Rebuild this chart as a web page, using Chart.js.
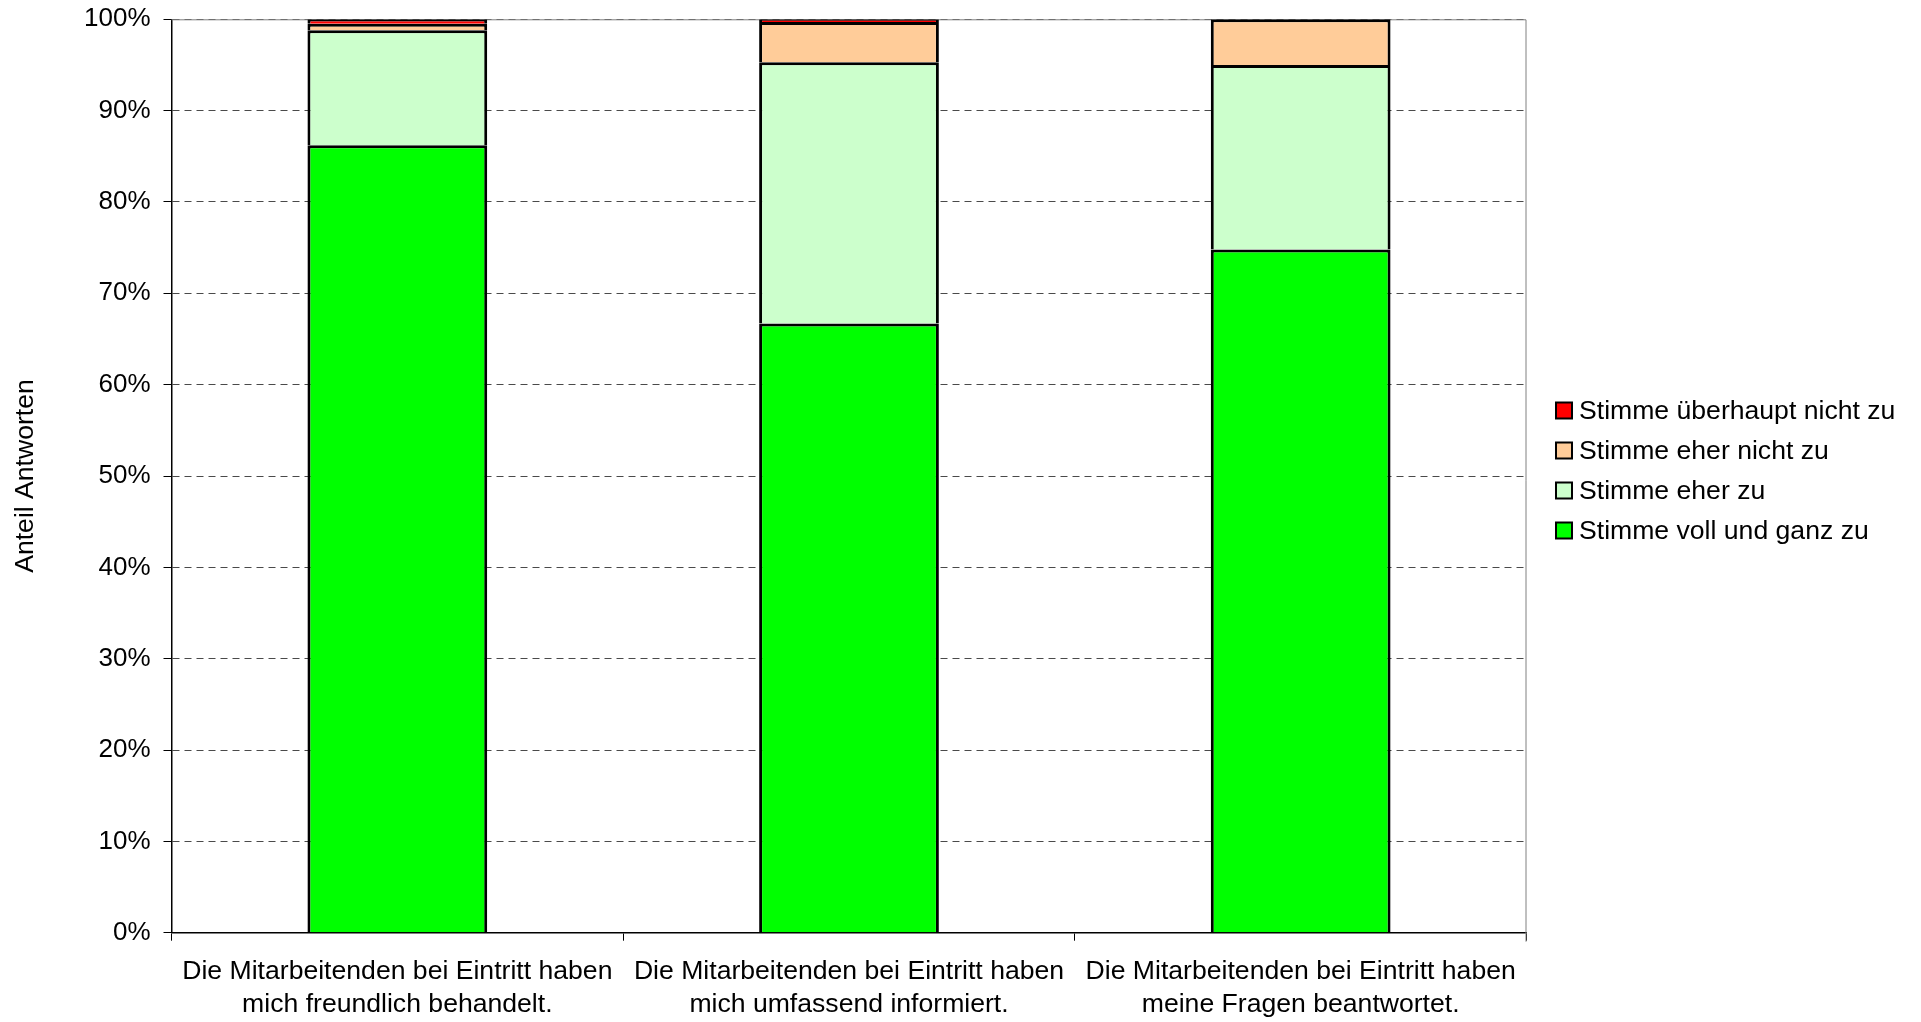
<!DOCTYPE html>
<html>
<head>
<meta charset="utf-8">
<title>Anteil Antworten</title>
<script src="https://cdn.jsdelivr.net/npm/chart.js@4/dist/chart.umd.min.js"></script>
<style>
  html, body { margin: 0; padding: 0; background: #fff; overflow: hidden; }
  #chart { display: block; }
</style>
</head>
<body>
<canvas id="chart" width="1921" height="1022"></canvas>
<script>
// ── Data ────────────────────────────────────────────────────
const categories = [
    ['Die Mitarbeitenden bei Eintritt haben', 'mich freundlich behandelt.'],
    ['Die Mitarbeitenden bei Eintritt haben', 'mich umfassend informiert.'],
    ['Die Mitarbeitenden bei Eintritt haben', 'meine Fragen beantwortet.'],
];
const vollUndGanz     = [86.2, 66.7, 74.8];
const eherZu          = [12.6, 28.6, 20.2];
const eherNicht       = [0.7, 4.4, 5.0];
const ueberhauptNicht = [0.5, 0.3, 0.0];
const yTicks = [0, 10, 20, 30, 40, 50, 60, 70, 80, 90, 100];

// ── Layout ─────────────────────────────────────────────────
const PLOT = { left: 171.5, right: 1526.5, top: 19.3, bottom: 932.7 };
const FONT = "'Liberation Sans', Arial, sans-serif";

Chart.defaults.font.family = FONT;
Chart.defaults.font.size = 26.6;
Chart.defaults.color = '#000';
Chart.defaults.animation = false;

function makeSet(label, data, color) {
    return {
        label: label,
        data: data,
        backgroundColor: color,
        borderColor: '#000',
        borderWidth: 3,
        borderSkipped: 'start',
        inflateAmount: 0,
        barPercentage: 0.398,
        categoryPercentage: 1.0,
    };
}

// gray frame on top and right of plot area
const plotFrame = {
    id: 'plotFrame',
    beforeDatasetsDraw(chart) {
        const { ctx, chartArea: a } = chart;
        ctx.save();
        ctx.strokeStyle = '#808080';
        ctx.lineWidth = 1;
        ctx.beginPath();
        ctx.moveTo(a.left, a.top + 0.5);
        ctx.lineTo(a.right - 0.5, a.top + 0.5);
        ctx.lineTo(a.right - 0.5, a.bottom + 9);
        ctx.stroke();
        ctx.restore();
    },
};

// legend on the right, drawn from the datasets (top = last dataset)
const sideLegend = {
    id: 'sideLegend',
    afterDraw(chart) {
        const { ctx } = chart;
        const sets = chart.data.datasets.slice().reverse();
        const x = 1556, box = 16, rowH = 40;
        const y0 = 410.5;
        ctx.save();
        ctx.font = '26.6px ' + FONT;
        ctx.textBaseline = 'middle';
        ctx.textAlign = 'left';
        sets.forEach((ds, i) => {
            const cy = y0 + i * rowH;
            ctx.fillStyle = ds.backgroundColor;
            ctx.fillRect(x, cy - box / 2, box, box);
            ctx.strokeStyle = '#000';
            ctx.lineWidth = 2;
            ctx.strokeRect(x, cy - box / 2, box, box);
            ctx.fillStyle = '#000';
            ctx.fillText(ds.label, x + box + 7, cy + 1);
        });
        ctx.restore();
    },
};

new Chart(document.getElementById('chart'), {
    type: 'bar',
    data: {
        labels: categories,
        datasets: [
            makeSet('Stimme voll und ganz zu', vollUndGanz, '#00FF00'),
            makeSet('Stimme eher zu', eherZu, '#CCFFCC'),
            makeSet('Stimme eher nicht zu', eherNicht, '#FFCC99'),
            makeSet('Stimme überhaupt nicht zu', ueberhauptNicht, '#FF0000'),
        ],
    },
    options: {
        responsive: false,
        devicePixelRatio: 1,
        layout: {
            padding: { top: PLOT.top, right: 1921 - PLOT.right, left: 0, bottom: 0 },
        },
        scales: {
            x: {
                stacked: true,
                grid: {
                    offset: true,
                    drawOnChartArea: false,
                    tickLength: 8,
                    color: '#000',
                },
                border: { color: '#000', width: 1.5 },
                ticks: {
                    autoSkip: false,
                    maxRotation: 0,
                    padding: 14.5,
                    font: { size: 26.6, lineHeight: 1.24 },
                },
                afterFit(scale) {
                    scale.height = 1022 - PLOT.bottom;
                    scale.paddingLeft = 0;
                    scale.paddingRight = 0;
                },
            },
            y: {
                stacked: true,
                min: 0,
                max: 100,
                afterBuildTicks(scale) { scale.ticks = yTicks.map(v => ({ value: v })); },
                grid: {
                    color: '#4a4a4a',
                    lineWidth: 1,
                    tickLength: 8,
                    tickColor: '#000',
                },
                border: { color: '#000', width: 1.5, dash: [7, 5] },
                ticks: {
                    padding: 13,
                    callback: v => v + '%',
                    font: { size: 26 },
                },
                title: {
                    display: true,
                    text: 'Anteil Antworten',
                    font: { size: 26.6 },
                    padding: { top: 10, bottom: 4 },
                },
                afterFit(scale) {
                    scale.width = PLOT.left;
                    scale.paddingTop = 0;
                    scale.paddingBottom = 0;
                },
            },
        },
        plugins: {
            legend: { display: false },
            tooltip: { enabled: false },
        },
    },
    plugins: [plotFrame, sideLegend],
});
</script>
</body>
</html>
